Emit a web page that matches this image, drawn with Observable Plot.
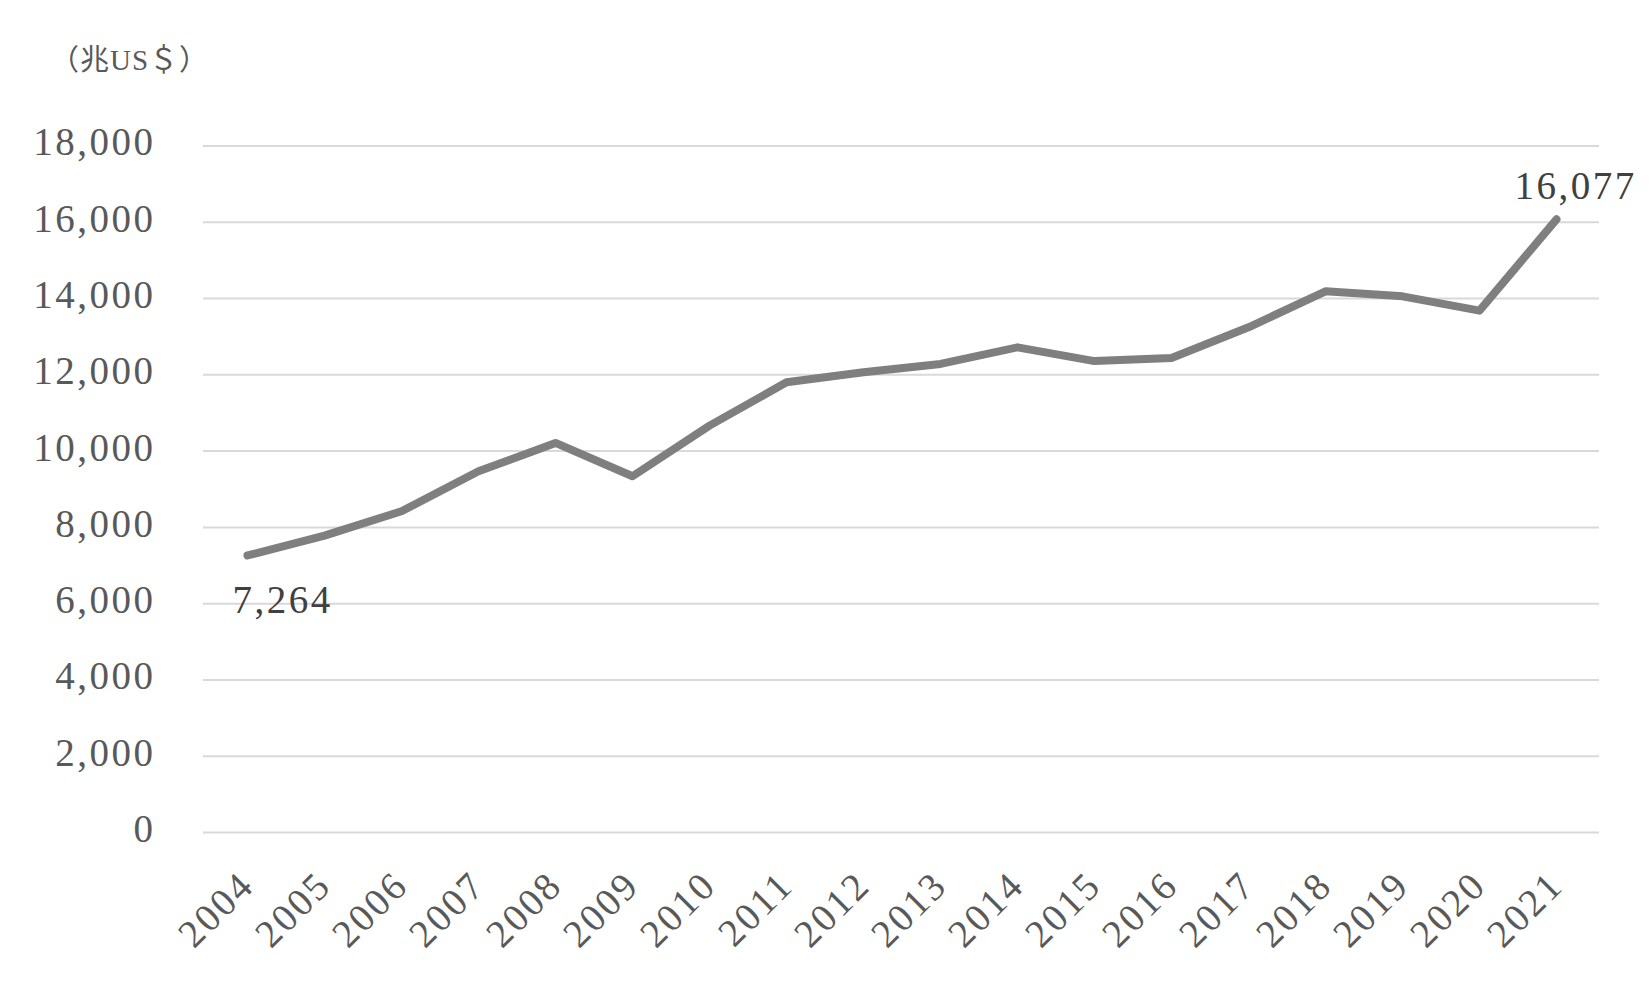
<!DOCTYPE html>
<html>
<head>
<meta charset="utf-8">
<script src="https://cdn.jsdelivr.net/npm/d3@7"></script>
<script src="https://cdn.jsdelivr.net/npm/@observablehq/plot@0.6"></script>
<style>
  html, body { margin: 0; padding: 0; background: #fff; }
  #wrap { position: relative; width: 1650px; height: 990px; }
  #unit { position: absolute; left: 50px; top: 36px; font-family: "Liberation Serif", "Noto Sans CJK JP", serif; font-size: 29px; letter-spacing: 1px; color: #595959; white-space: nowrap; }
  #chart svg text { letter-spacing: 2.5px; }
</style>
</head>
<body>
<div id="wrap">
  <div id="unit">（兆US＄）</div>
  <div id="chart"></div>
</div>
<script>
const years = ["2004","2005","2006","2007","2008","2009","2010","2011","2012","2013","2014","2015","2016","2017","2018","2019","2020","2021"];
const values = [7264, 7785, 8422, 9471, 10215, 9340, 10668, 11804, 12066, 12285, 12721, 12360, 12443, 13246, 14190, 14058, 13683, 16077];
const yTicks = [0, 2000, 4000, 6000, 8000, 10000, 12000, 14000, 16000, 18000];
const unitLabel = "（兆US＄）";

const data = years.map((y, i) => ({year: y, value: values[i]}));
const first = [data[0]];
const last = [data[data.length - 1]];
const fmt = d3.format(",");

const plot = Plot.plot({
  width: 1650,
  height: 990,
  marginLeft: 203,
  marginRight: 51,
  marginTop: 145.5,
  marginBottom: 158,
  style: {fontFamily: "'Liberation Serif', 'Noto Sans CJK JP', serif", fontSize: "39px", color: "#595959", background: "#fff"},
  x: {type: "point", domain: years, padding: 0.5},
  y: {domain: [0, 18000]},
  marks: [
    Plot.ruleY(yTicks, {stroke: "#d9d9d9", strokeWidth: 2}),
    Plot.axisY({ticks: yTicks, tickSize: 0, tickPadding: 48, tickFormat: fmt, label: null, fill: "#595959", dy: -3}),
    Plot.axisX({tickRotate: -45, tickSize: 0, tickPadding: 46, label: null, fill: "#595959"}),
    Plot.line(data, {x: "year", y: "value", stroke: "#7f7f7f", strokeWidth: 8, strokeLinecap: "round", strokeLinejoin: "round"}),
    Plot.text(first, {x: "year", y: "value", text: d => fmt(d.value), dx: 35, dy: 45, fill: "#404040"}),
    Plot.text(last, {x: "year", y: "value", text: d => fmt(d.value), dx: 19, dy: -33, fill: "#404040"})
  ]
});
document.getElementById("chart").appendChild(plot);
document.getElementById("unit").textContent = unitLabel;
</script>
</body>
</html>
